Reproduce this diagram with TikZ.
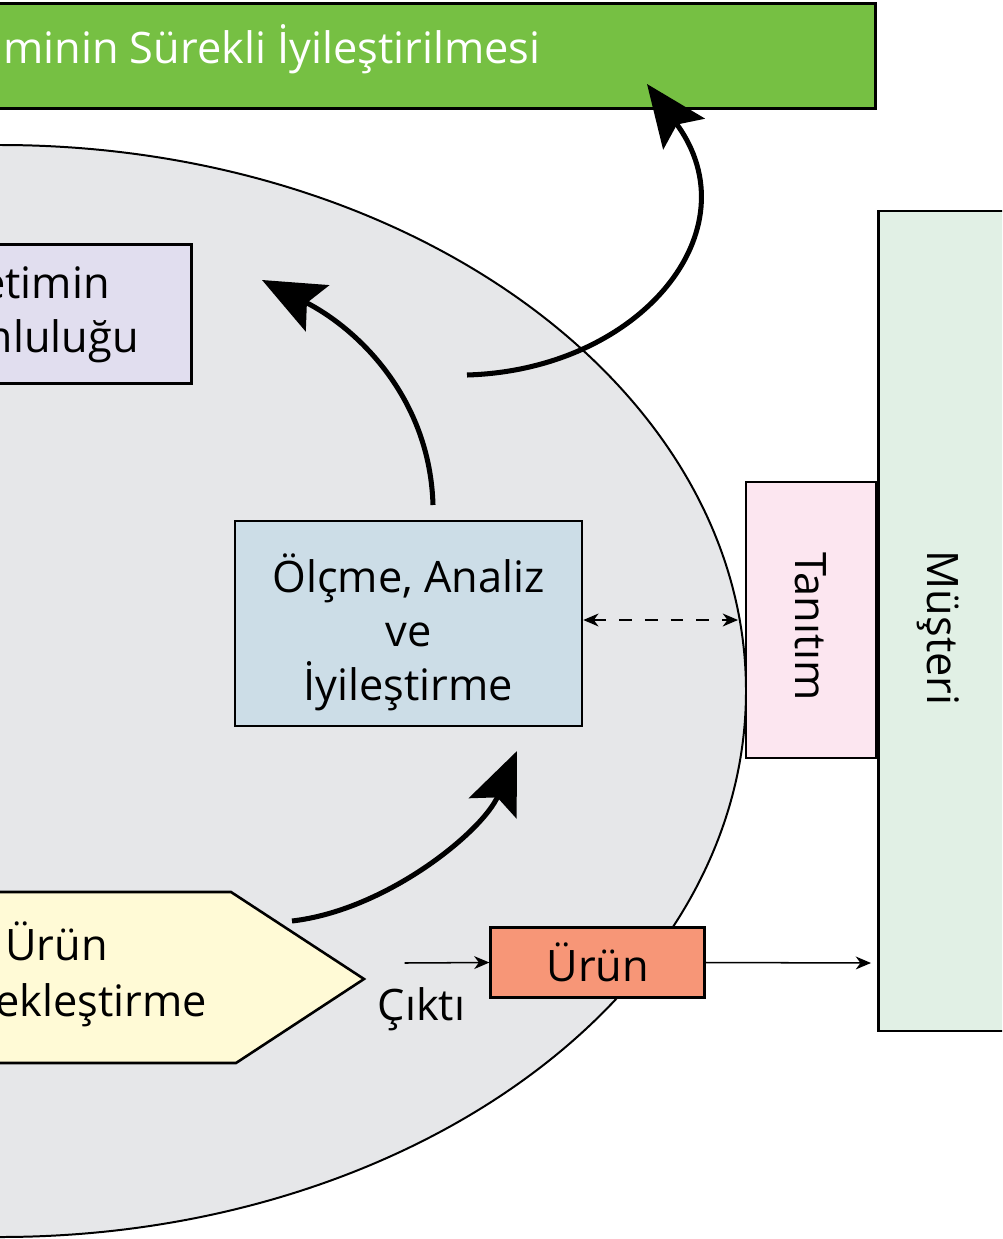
\documentclass[tikz,border=0pt]{standalone}
\usepackage{fontspec}
\setmainfont{Open Sans}
\usepackage{tikz}
\usetikzlibrary{arrows.meta,shapes.geometric}

\definecolor{kysgreen}{HTML}{76C043}
\definecolor{kysgray}{HTML}{E6E7E9}
\definecolor{ysorlilac}{HTML}{E1DEEF}
\definecolor{olcblue}{HTML}{CCDDE7}
\definecolor{urgyellow}{HTML}{FFFAD6}
\definecolor{urunsalmon}{HTML}{F79677}
\definecolor{tanpink}{HTML}{FCE6F0}
\definecolor{musmint}{HTML}{E1F0E5}

\newcommand{\pxu}{0.03cm}

\tikzset{
	box/.style={draw=black, line width=2.2pt, inner sep=0pt},
	bigtext/.style={font=\fontsize{37}{46}\selectfont},
	flow/.style={line width=4.3pt, -{Stealth[length=53pt, width=44pt, inset=10pt]}},
	outarrow/.style={line width=1.3pt, -{Stealth[length=13pt, width=11pt, inset=4pt]}},
	dashlink/.style={line width=1.3pt, dash pattern=on 11pt off 11pt,
		{Stealth[length=13pt, width=11pt, inset=4pt]}-{Stealth[length=13pt, width=11pt, inset=4pt]}}
}

\begin{document}
\begin{tikzpicture}[x=0.03cm, y=-0.03cm]

	\useasboundingbox (0,0) rectangle (1002,1239);
	\clip (0,0) rectangle (1002,1239);

	\node[box, fill=kysgreen, anchor=north east, minimum width=1100*\pxu, minimum height=105*\pxu] (kys) at (877,2) {};
	\node[font=\fontsize{37}{46}\selectfont, text=white, anchor=base west, inner sep=0pt] (kysLabel) at (3,64) {minin Sürekli İyileştirilmesi};

	\node[ellipse, draw=black, line width=1.7pt, fill=kysgray, inner sep=0pt,
		minimum width=1492*\pxu, minimum height=1092*\pxu] (sys) at (0,691) {};

	\node[box, fill=musmint, anchor=west, minimum width=300*\pxu, minimum height=820*\pxu] (musteri) at (877,621) {};
	\node[bigtext, rotate=-90] (musteriLabel) at (938,628) {Müşteri};

	\node[box, fill=tanpink, rotate=-90, bigtext, minimum width=276*\pxu, minimum height=130*\pxu] (tanitim) at (811,620) {\hspace*{11pt}Tanıtım};

	\node[box, fill=ysorlilac, anchor=north east, minimum width=400*\pxu, minimum height=139*\pxu] (ysor) at (193,243) {};
	\node[bigtext, anchor=base east, inner sep=0pt] (ysorA) at (110,298) {etimin};
	\node[bigtext, anchor=base east, inner sep=0pt] (ysorB) at (139,352) {mluluğu};

	\node[box, fill=olcblue, bigtext, align=center, minimum width=347*\pxu, minimum height=205*\pxu] (olcme) at (408.5,623.5) {\rule{0pt}{48pt}Ölçme, Analiz\\ve\\İyileştirme};

	\draw[line width=2.2pt, fill=urgyellow] (-60,892) -- (231,892) -- (364,979) -- (236,1063) -- (-60,1063) -- cycle;
	\node[bigtext, anchor=base west, inner sep=0pt] (urgA) at (5,960) {Ürün};
	\node[bigtext, anchor=base east, inner sep=0pt] (urgB) at (207,1016) {ekleştirme};

	\node[box, fill=urunsalmon, bigtext, minimum width=214*\pxu, minimum height=70*\pxu] (urun) at (597.7,962.5) {Ürün};
	\node[bigtext, anchor=base, inner sep=0pt] (cikti) at (421.5,1020) {Çıktı};

	\coordinate (ciktiOut) at (404.5,963);
	\coordinate (musIn) at (871,963);
	\coordinate (tanEdge) at (738,620);

	\coordinate (f1s) at (292,921);
	\coordinate (f1e) at (517,751);
	\coordinate (f2s) at (433,505);
	\coordinate (f2e) at (262,280);
	\coordinate (f3s) at (467,375);
	\coordinate (f3e) at (647,84);

	\draw[outarrow] (ciktiOut) -- (urun.west);
	\draw[outarrow] (urun.east) -- (musIn);
	\draw[dashlink] (olcme.east |- tanEdge) -- (tanEdge);

	\draw[flow] (f1s) .. controls (387,910) and (483,831) .. (f1e);
	\draw[flow] (f2s) .. controls (430,400) and (360,330) .. (f2e);
	\draw[flow] (f3s) .. controls (640,370) and (755,230) .. (f3e);

\end{tikzpicture}
\end{document}
